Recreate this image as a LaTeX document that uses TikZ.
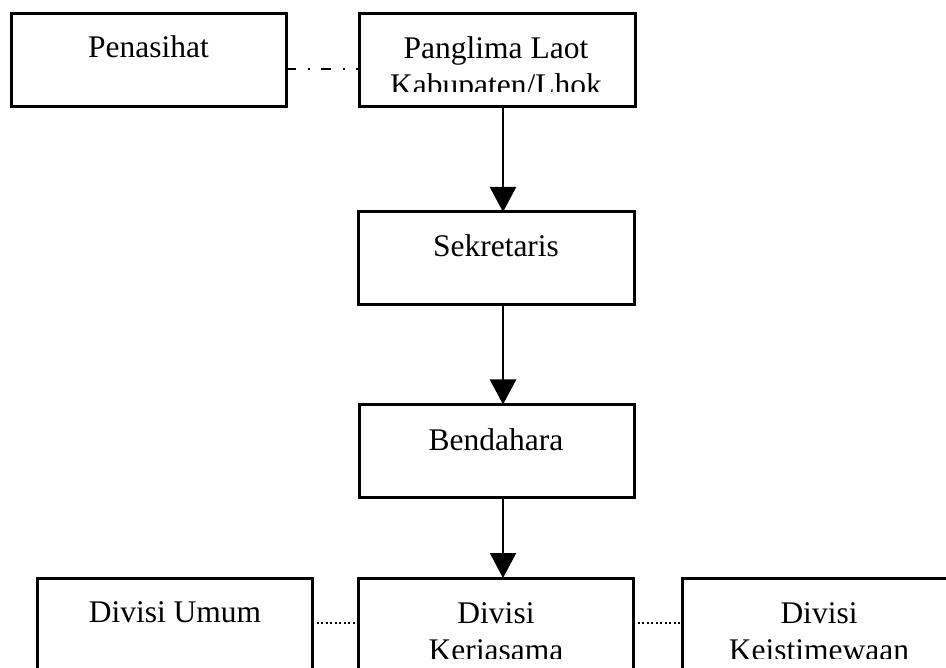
\documentclass[tikz,border=0pt]{standalone}
\usepackage{fontspec}
\setmainfont{Liberation Serif}
\usetikzlibrary{arrows.meta}
\tikzset{
  orgbox/.style={draw, line width=3pt, rectangle, inner sep=0pt, outer sep=0pt, minimum width=275pt, minimum height=93pt},
  lbl/.style={anchor=base, inner sep=0pt, align=center, font=\fontsize{31.5}{37}\selectfont},
  flow/.style={line width=2.2pt, -{Triangle[length=25pt,width=26pt]}},
  dashdotline/.style={line width=2.2pt, dash pattern=on 10pt off 12pt on 2pt off 11pt},
  dotline/.style={line width=2.4pt, dash pattern=on 2pt off 2.5pt}
}
\begin{document}
\begin{tikzpicture}[x=1pt,y=-1pt]
\clip (0,0) rectangle (946,668);
\fill[white] (0,0) rectangle (946,668);
% boxes
\node[orgbox] (pen) at (148.5,60.5) {};
\node[orgbox, minimum width=276pt] (pan) at (497,60.5) {};
\node[orgbox, minimum width=276pt] (sek) at (496,258.5) {};
\node[orgbox] (ben) at (496.5,451) {};
\node[orgbox] (umum) at (174.5,624.5) {};
\node[orgbox] (kerja) at (495.5,624.5) {};
\node[orgbox] (keist) at (819.5,624.5) {};
% labels
\node[lbl] (penT) at (148.5,58) {Penasihat};
\begin{scope}
\clip (360,15) rectangle (634,92);
\node[lbl] (panT) at (496,96) {Panglima Laot\\Kabupaten/Lhok};
\end{scope}
\node[lbl] (sekT) at (496,257) {Sekretaris};
\node[lbl] (benT) at (496,450) {Bendahara};
\node[lbl] (umumT) at (175,622) {Divisi Umum};
\begin{scope}
\clip (0,580) rectangle (946,658);
\node[lbl] (kerjaT) at (496,660) {Divisi\\Kerjasama};
\node[lbl] (keistT) at (819,660) {Divisi\\Keistimewaan};
\end{scope}
% connectors
\draw[dashdotline] ([yshift=-8.5pt]pen.east) -- ([yshift=-8.5pt]pan.west);
\draw[flow] ([xshift=6pt]pan.south) -- ([xshift=7pt]sek.north);
\draw[flow] ([xshift=7pt]sek.south) -- ([xshift=6.5pt]ben.north);
\draw[flow] ([xshift=6.5pt]ben.south) -- ([xshift=7.5pt]kerja.north);
\draw[dotline] ([yshift=1.5pt]umum.east) -- ([yshift=1.5pt]kerja.west);
\draw[dotline] ([yshift=1.5pt]kerja.east) -- ([yshift=1.5pt]keist.west);
\end{tikzpicture}
\end{document}
